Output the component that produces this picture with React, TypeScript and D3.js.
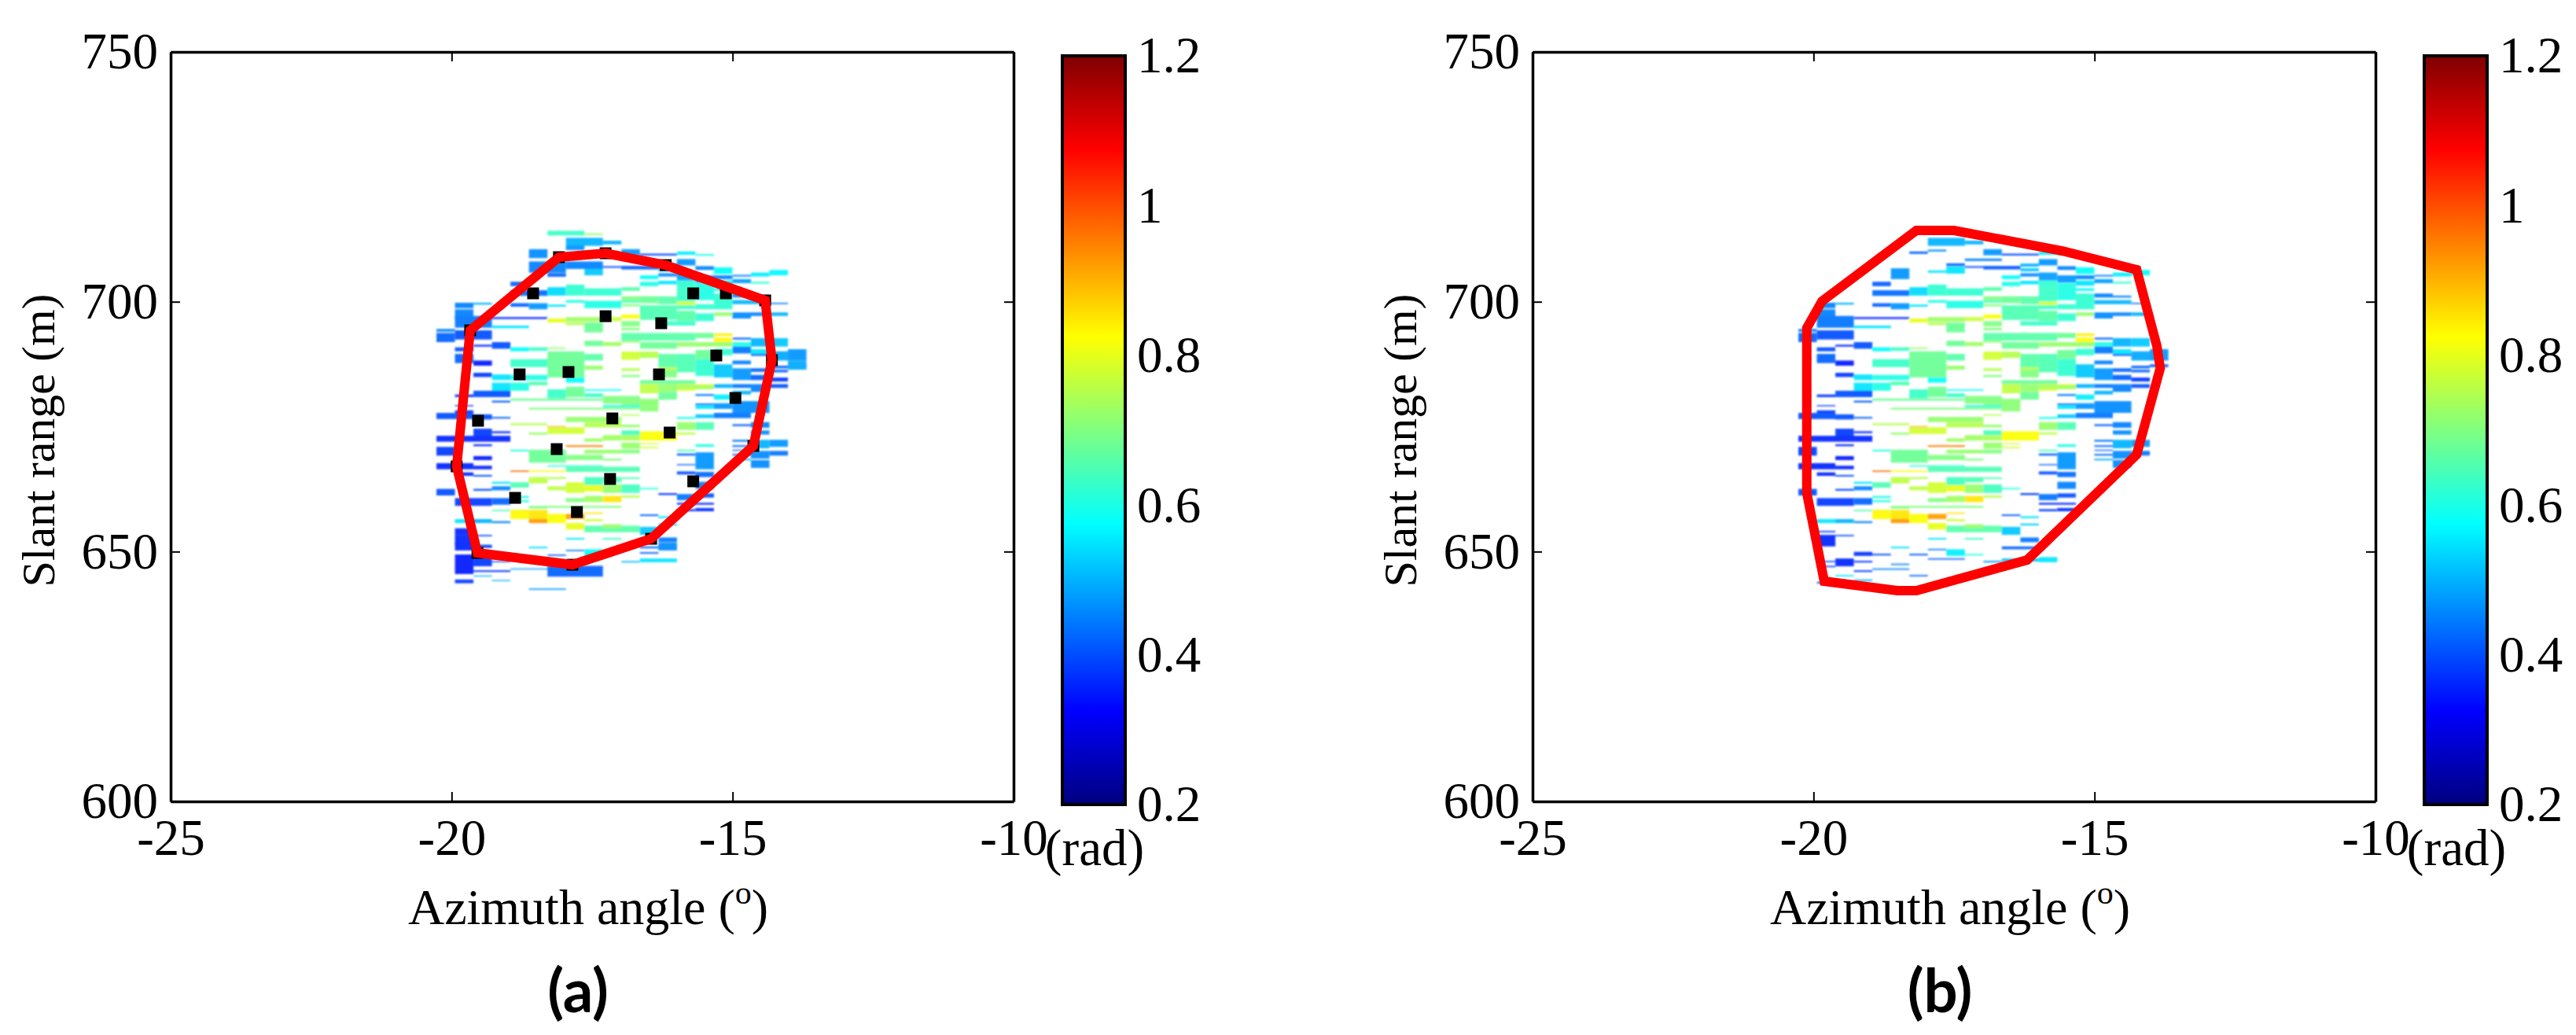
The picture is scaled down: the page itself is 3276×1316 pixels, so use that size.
import React, { useEffect, useRef } from 'react';
import * as d3 from 'd3';

// grid of the phase map: column = 0.3292 deg, bin = half a range gate
const az0 = -20.27;
const azStep = 0.3292;
const range0 = 717.89;
const binStep = 0.4722;

// [colStart, colEnd, binStart, binEnd, radians]
type Cell = [number, number, number, number, number];

const sharedCells: Cell[] = [
  [7,9,10.8,14.2,.5],[9,10,12,13.6,.5],[10,11,15.6,18.2,.47],[11,13,17.5,18.3,.4],[13,14,16.6,18,.56],[14,15,17.7,18.4,.6],
  [13,14,19.8,22.5,.47],[12,13,21.7,23,.5],[10,12,22.8,24.2,.42],[9,12,22.8,23.5,.4],[14,15,22.8,24.4,.45],[15,16,23.3,26.1,.58],
  [12,13,23.7,25,.52],[13,14,25.5,28.9,.48],[14,15,26.7,29.8,.47],[15,16,26.7,28.3,.45],[15,16,28.9,31.1,.55],[16,17,26.5,27.2,.45],
  [16,17,28.3,30,.48],[17,18,25.5,27.2,.56],[18,19,24.4,26.7,.57],[17,18,29.4,30.2,.62],[11,12,26.7,28.3,.58],[11,12,29.4,31.3,.6],
  [12,13,25.8,27.2,.46],[12,13,29,30.5,.55],[13,14,29,31.7,.62],
  [4,5,29.4,31.3,.42],[4,6,33,35.4,.43],[6,7,31.7,35.3,.54],[7,8,30.6,35.3,.62],[8,10,32.2,35.3,.62],[10,11,31.7,33.3,.66],
  [10,12,35.6,37.2,.7],[11,12,35.6,38.5,.68],[12,13,35.6,38.9,.66],[14,15,30,37.2,.6],[15,16,32.2,33.3,.58],[15,16,34.4,41.1,.62],
  [16,17,34.4,36.1,.45],[17,18,35.3,36.1,.45],[16,18,37.2,38.9,.5],[18,19,38.3,38.9,.45],[13,14,31.7,37.8,.63],[13,14,37.8,39.4,.78],
  [13,14,39.4,41,.63],[14,15,38.9,41.1,.62],[13,14,41.7,46.1,.66],[14,15,42.8,46.1,.62],[15,16,42.4,43.9,.72],[16,17,42.4,45,.46],
  [17,18,42.4,43.9,.45],[18,19,42.4,43.9,.5],
  [7,8,37.2,38.3,.6],[8,10,37.5,40.6,.6],[10,11,37.2,38.3,.65],[10,11,38.9,39.8,.7],[4,5,38.5,40,.42],[5,6,38.5,41.1,.47],[6,7,39.1,40,.55],
  [1,2,38.3,40.6,.45],[2,3,38.3,39.1,.5],[1,2,41.1,45.5,.45],[1,3,43.9,48.9,.44],[3,6,44.4,45.2,.36],[3,5,48,49.1,.55],
  [0,1,49.4,50.6,.45],[0,1,51.1,55,.42],[1,3,50,53.9,.4],[3,4,55,57.8,.4],[2,3,56.1,56.9,.36],[1,2,57.2,58.9,.4],[1,2,60,63.9,.42],
  [2,3,62.8,65,.35],[2,3,68,69.8,.38],[4,5,57.2,58.9,.58],[5,6,57.2,58.7,.63],[6,7,57.2,57.8,.72],
  [6,7,45,46.7,.8],[7,9,44.4,46.4,.73],[7,8,46.7,47.8,.75],[8,9,46.7,50.9,.68],[9,10,44.4,46.1,.77],[10,11,43.3,45,.82],[10,11,46.1,48.3,.7],
  [10,11,48.9,50,.7],[11,13,39.4,45.6,.65],[12,14,46.1,48,.63],[10,14,51.1,54.4,.66],[11,13,55,57.8,.68],[8,9,54.4,56.7,.68],[9,10,55,56.7,.73],[10,11,54.4,55.2,.72],
  [14,15,51.1,53.3,.68],[15,16,51.3,52.4,.84],[15,16,53.1,55,.83],[13,16,55,56.9,.72],[16,17,53.1,53.9,.42],[16,17,55,56.9,.6],[17,18,53.3,56.9,.5],[18,19,53.3,56.9,.52],
  [16,17,56.9,59.8,.44],[17,18,58,60,.55],[18,19,58.9,62.8,.49],[19,20,58,62.8,.47],[17,18,60,60.8,.4],[14,15,58.3,62.2,.68],[15,16,57.8,60.6,.62],
  [6,8,58.9,62.8,.68],[4,6,62.2,65.6,.63],[6,8,62.2,70,.68],[8,9,60,62.8,.66],[8,9,65,66.7,.72],[3,4,68.7,71.1,.55],[4,6,68.9,71.1,.6],
  [10,11,59,62.5,.78],[11,12,59,61.7,.75],[12,13,60,66.7,.66],[10,11,66.1,67.2,.75],[12,13,65.6,66.7,.75],[10,11,68.9,69.8,.7],[12,13,66.7,70,.7],[7,8,70,72.2,.58],
  [13,14,60,67.8,.65],[14,15,62.2,69.4,.62],[16,17,62.8,64.4,.45],[15,16,64.4,70,.52],[16,17,66.1,71.1,.47],[17,18,66.1,67.6,.42],[17,18,68.9,71.1,.42],
  [18,19,65,66.1,.42],[18,19,66.7,67.8,.42],[18,19,70,71.7,.38],[19,20,64.4,65.6,.42],
  [14,15,72.8,75,.8],[13,14,72.8,75.6,.8],[15,16,72.8,74.4,.5],[16,17,72.8,74.4,.44],[17,18,72.8,76.1,.45],[18,19,72.8,74.4,.4],[16,17,75.6,77.2,.5],
  [14,15,77,77.8,.45],[15,16,77.2,79.4,.56],[14,15,81.7,83.3,.55],[15,16,80.9,83.3,.47],[16,18,80,85,.46],[14,15,81,81.6,.4],[15,17,85,87.2,.44],
  [14,15,85.6,87.2,.52],[13,14,86.7,87.5,.6],[14,15,88.9,92.2,.65],[13,14,88.9,92.2,.72],[16,17,89.8,90.6,.42],[17,18,88.9,91.3,.45],[17,18,92.4,94.2,.46],
  [11,14,71.1,72.8,.68],[3,4,72.2,76.7,.55],[4,5,72.2,75.6,.6],[5,6,71.7,73.3,.65],[6,7,75,78.9,.63],[7,8,73.9,78.3,.68],[8,9,76.7,78.3,.63],[8,10,75,75.6,.58],
  [11,12,72.8,76.7,.76],[12,13,72.8,76.1,.72],[13,15,73.1,75,.74],[12,13,76.1,79.4,.68],[2,4,75.6,78.3,.4],[1,2,77.2,78.3,.38],[3,4,79.8,80.6,.42],
  [4,9,78.9,79.8,.68],[9,11,77.8,81.1,.7],[10,12,79.4,82.2,.7],[11,12,79,84.4,.71],[9,11,81.7,82.8,.62],[5,11,82.8,83.6,.7],
  [0,2,85,87.6,.4],[1,2,81.7,82.2,.38],[1,2,83.9,85,.38],[2,3,85.6,87.8,.4],[3,4,86.7,87.4,.42],
  [2,3,91.7,96.7,.38],[3,4,92.8,93.6,.36],[0,4,94.7,97.2,.36],[2,3,98.3,99.1,.36],[0,1,99.4,103.1,.38],[2,3,103.3,105,.35],[0,2,106.3,108.9,.36],[2,3,107.4,108.9,.36],
  [1,2,110.2,111.7,.36],[2,3,111.3,112,.4],
  [10,11,85.6,86.2,.75],[7,10,86.7,88.9,.72],[8,10,88.9,91.1,.75],[4,6,89.4,90.2,.75],[6,7,90.6,91.1,.9],[6,8,91.1,93.9,.78],[5,6,93.3,94.2,.72],[10,11,90,91.1,.72],
  [10,11,92.4,94.4,.64],[10,11,94.4,96.7,.74],[11,13,92.8,96.7,.82],[13,14,93.3,94.2,.76],[9,10,94.4,96.7,.73],[8,9,95.8,97.2,.73],[10,11,97.6,100.2,.72],
  [11,12,97.8,98.3,.78],[11,12,99.4,100,.78],[7,9,98.7,99.4,.95],[14,15,98.3,99.4,.6],
  [4,5,100.6,101.3,.6],[5,7,100.6,106.1,.68],[7,9,102.8,105,.7],[8,10,100.6,102.2,.72],[10,11,100.6,102.2,.7],[13,14,100.6,101.3,.65],[13,14,102.2,103.1,.42],[14,15,101.7,108.9,.47],
  [16,17,96.4,97.2,.44],[16,17,98.7,99.4,.42],[16,17,100.6,101.1,.42],[16,17,102.4,103.1,.42],[16,17,104.4,105.1,.5],[17,18,96.4,100,.5],[18,19,96.4,99.4,.47],
  [17,18,101.1,104.4,.46],[18,19,101.1,103.1,.44],[17,18,105,108.3,.46],[9,10,104.4,105.2,.7],[13,14,106.7,107.2,.42],[13,14,109.8,111.1,.4],[14,15,110,112.2,.43],
  [6,9,107.2,107.8,.62],[7,11,107.8,110,.65],[4,5,109.4,110,.97],[5,7,109.4,110,.83],[5,6,112.2,114.9,.76],[6,7,112.2,113,.75],[8,9,112.2,115.6,.64],[4,5,114.4,116.7,.65],
  [3,4,114.2,115,.55],[3,4,116.1,117.8,.45],[2,3,117.2,118,.4],[0,1,117.2,120,.4],[7,8,114.4,118.9,.78],[8,9,115.6,118.3,.8],[9,10,115.3,118.9,.72],[10,11,115.3,118.9,.64],
  [6,7,116.1,117.8,.76],[11,12,116.8,117.4,.6],[9,10,112.2,114.4,.65],[10,11,112.3,113,.65],[14,15,114.2,117.2,.45],
  [8,9,120.2,122.8,.73],[9,10,120.2,122.8,.85],[7,8,121.1,122.8,.7],[10,11,120,120.9,.75],[1,3,121.1,124.4,.38],[3,4,121.1,123.9,.42],[4,5,120.2,121.1,.6],[4,5,122,122.8,.6],
  [12,13,119,119.8,.38],[13,14,119.4,122,.44],[14,15,119.1,120.9,.4],[13,15,123.1,123.9,.36],[14,15,125.3,126.7,.37],[13,14,125.8,126.7,.38],
  [5,6,124.4,125.6,.7],[3,5,126.1,126.7,.65],[6,10,124.4,125.2,.7],[4,5,126.1,130,.83],[5,6,126.1,130,.85],[5,6,130,131.7,.93],[6,7,127.8,131.7,.82],[7,8,127.8,130,.92],
  [8,9,127.2,127.8,.85],[8,9,130,130.9,.78],[7,8,131.7,134.4,.8],[1,2,130,131.7,.55],[2,3,130,131.7,.5],[3,4,130.9,131.7,.45],[11,12,128,128.7,.42],[12,13,128.8,129.6,.55],[12,13,131.9,132.7,.53],
  [8,11,132.8,135.6,.66],[9,10,132.2,133.9,.72],[11,12,133.3,136.7,.52],[7,8,138,138.7,.55],[9,10,138,138.7,.63],[2,3,136.7,137.3,.4],[12,13,137.8,139.8,.44],[1,2,136.7,141,.36],
  [11,13,141.6,142.4,.42],[5,6,141.7,142.4,.55],
];

const panelAOnly: Cell[] = [
  [6,8,7.8,9.8,.63],[8,9,8.9,9.6,.72],[7,8,14,16,.47],[5,6,15.6,19.4,.46],[5,7,20.8,25.6,.45],[7,9,20.8,24,.45],[8,9,24,26.7,.52],[6,7,25.8,27.3,.42],
  [19,20,62.8,66.7,.49],[1,2,133.9,136.7,.36],[1,2,140,143.3,.36],[2,3,140.9,142.2,.38],[12,13,140,143.3,.46],[11,12,144,144.7,.42],[6,7,145,145.6,.42],[7,8,143,143.6,.45],[8,9,142.8,145.6,.57],
  [1,2,145,153.3,.35],[2,3,145,150,.38],[3,4,147.8,148.3,.38],[2,4,151.7,152.4,.37],[2,3,153.9,154.4,.5],[1,2,155.6,157.2,.38],[3,4,155.8,156.3,.5],[4,7,150.9,151.4,.48],[6,9,149.8,154.4,.42],
  [5,7,159.4,160,.48],[10,11,147.8,148.4,.5],[11,13,146.7,148.3,.55],
];

const panelBOnly: Cell[] = [
  [7,8,15.8,16.6,.46],[6,7,16.6,17.6,.42],[9,11,19.6,20.6,.45],[8,9,21.6,22.8,.42],[8,9,23,26,.55],[7,8,24.6,25.6,.55],[5,6,23.7,28.3,.47],
  [1,2,135,135.6,.38],[1,2,140,141.6,.36],[7,8,142.6,143.2,.45],[11,13,142.2,142.8,.42],[8,9,142.8,145.6,.56],[3,4,143.9,145.6,.37],[4,5,144.7,145.4,.4],[6,7,144.7,145.4,.42],[9,10,144.8,145.4,.6],
  [7,9,146.6,147.2,.42],[2,3,146.7,150,.36],[11,13,146.7,148,.52],[13,14,146.1,148.3,.55],[1,2,147.7,148.3,.4],[3,4,147.7,148.4,.38],[10,11,147.7,148.4,.48],[5,6,148.9,149.5,.45],[1,2,149.8,150.4,.38],
  [4,6,150.9,151.5,.45],[3,4,151.7,152.4,.38],[2,3,153.7,154.3,.55],[6,7,153.7,154.3,.42],[3,4,155.6,156.3,.5],[1,2,156.6,157.3,.4],
];

// [azimuth deg, slant range m]
const boundaryA: [number, number][] = [
  [-19.67,694.28],[-18.09,708.92],[-17.26,709.7],[-16.19,707.34],[-14.42,700.26],[-14.3,688.3],[-14.63,671.14],[-16.45,652.57],[-17.85,647.37],[-19.54,649.73],[-19.91,667.05],
];
const boundaryB: [number, number][] = [
  [-18.17,714.27],[-17.5,714.27],[-15.57,710.18],[-14.25,706.4],[-13.89,691.13],[-13.83,686.72],[-14.25,669.41],[-16.2,648.32],[-18.17,642.18],[-18.51,642.18],[-19.81,644.07],[-20.12,661.7],[-20.12,694.75],[-19.85,700.1],
];
const scatterA: [number, number][] = [
  [-18.55,701.68],[-15.7,701.68],[-15.12,701.68],[-17.26,697.11],[-16.27,695.7],[-15.29,689.24],[-18.79,685.46],[-17.92,685.94],[-16.31,685.46],
  [-14.95,680.74],[-19.53,676.18],[-17.14,676.65],[-16.12,673.82],[-18.13,670.51],[-17.18,664.53],[-15.7,664.06],[-18.87,660.75],[-17.77,657.92],
];

const azTicks = [-25, -20, -15, -10];
const rangeTicks = [600, 650, 700, 750];
const barTicks = [0.2, 0.4, 0.6, 0.8, 1, 1.2];

const jetStops = [0.2, 0.325, 0.575, 0.825, 1.075, 1.2];
const jetColors = ['#00007f', '#0000ff', '#00ffff', '#ffff00', '#ff0000', '#7f0000'];
const jet = d3.scaleLinear<string>().domain(jetStops).range(jetColors).clamp(true);

const SERIF = '"Liberation Serif", serif';
const FONT = 65;

function drawPanel(svg: d3.Selection<SVGSVGElement, unknown, null, undefined>, id: string, dx: number, letter: string,
  cells: Cell[], boundary: [number, number][], scatter: [number, number][]) {
  const x = d3.scaleLinear().domain([-25, -10]).range([217, 1289]);
  const y = d3.scaleLinear().domain([600, 750]).range([1019, 66]);
  const g = svg.append('g').attr('transform', `translate(${dx},0)`);

  const heat = g.append('g').attr('filter', 'url(#soft)').attr('opacity', 0.92);
  cells.forEach(([c0, c1, b0, b1, v]) => {
    const xa = x(az0 + azStep * c0);
    const xb = x(az0 + azStep * c1);
    const ya = y(range0 - binStep * b0);
    const yb = y(range0 - binStep * b1);
    heat.append('rect').attr('x', xa).attr('y', ya).attr('width', xb - xa).attr('height', yb - ya).attr('fill', jet(v));
  });

  scatter.concat(scatter.length ? boundary : []).forEach(([a, r]) => {
    g.append('rect').attr('x', x(a) - 7.5).attr('y', y(r) - 7.5).attr('width', 15).attr('height', 15).attr('fill', '#000');
  });

  const line = d3.line<[number, number]>().x(d => x(d[0])).y(d => y(d[1])).curve(d3.curveLinearClosed);
  g.append('path').attr('d', line(boundary)).attr('fill', 'none').attr('stroke', '#ff0000').attr('stroke-width', 12).attr('stroke-linejoin', 'miter');

  // axes, box on
  const styleAxis = (a: d3.Selection<SVGGElement, unknown, null, undefined>) => {
    a.selectAll('path').attr('stroke', '#000').attr('stroke-width', 3.5);
    a.selectAll('line').attr('stroke', '#000').attr('stroke-width', 2);
    a.selectAll('text').attr('font-family', SERIF).attr('font-size', FONT).attr('fill', '#000');
    a.attr('font-family', SERIF);
  };
  g.append('g').attr('transform', 'translate(0,1019)')
    .call(d3.axisBottom(x).tickValues(azTicks).tickSize(-12).tickPadding(22).tickSizeOuter(0).tickFormat(d => String(d))).call(styleAxis);
  g.append('g').attr('transform', 'translate(217,0)')
    .call(d3.axisLeft(y).tickValues(rangeTicks).tickSize(-12).tickPadding(16).tickSizeOuter(0)).call(styleAxis);
  g.append('g').attr('transform', 'translate(0,66)')
    .call(d3.axisTop(x).tickValues(azTicks).tickSize(-12).tickFormat(() => '').tickSizeOuter(0)).call(styleAxis);
  g.append('g').attr('transform', 'translate(1289,0)')
    .call(d3.axisRight(y).tickValues(rangeTicks).tickSize(-12).tickFormat(() => '').tickSizeOuter(0)).call(styleAxis);

  // colour bar
  const barY = d3.scaleLinear().domain([0.2, 1.2]).range([1023, 71]);
  g.append('rect').attr('x', 1351).attr('y', 71).attr('width', 80).attr('height', 952)
    .attr('fill', `url(#jet${id})`).attr('stroke', '#000').attr('stroke-width', 4);
  g.append('g').attr('transform', 'translate(1431,0)')
    .call(d3.axisRight(barY).tickValues(barTicks).tickSize(0).tickPadding(15).tickFormat(d3.format('~g') as any))
    .call(a => {
      a.select('path').remove();
      a.selectAll('text').attr('font-family', SERIF).attr('font-size', FONT).attr('fill', '#000');
    });
  g.append('text').attr('x', 1392).attr('y', 1100).attr('text-anchor', 'middle')
    .attr('font-family', SERIF).attr('font-size', FONT).text('(rad)');

  // axis titles
  const xt = g.append('text').attr('x', 748).attr('y', 1175).attr('text-anchor', 'middle')
    .attr('font-family', SERIF).attr('font-size', 64);
  xt.append('tspan').text('Azimuth angle (');
  xt.append('tspan').attr('font-size', 42).attr('dy', -26).text('o');
  xt.append('tspan').attr('dy', 26).text(')');
  g.append('text').attr('transform', 'translate(50,560) rotate(-90)').attr('text-anchor', 'middle')
    .attr('dy', '0.32em').attr('font-family', SERIF).attr('font-size', 60).text('Slant range (m)');

  g.append('text').attr('x', 735).attr('y', 1287).attr('text-anchor', 'middle')
    .attr('font-family', 'Lato, sans-serif').attr('font-weight', 700).attr('font-size', 76).text(`(${letter})`);
}

const App: React.FC = () => {
  const svgRef = useRef<SVGSVGElement>(null);

  useEffect(() => {
    if (!svgRef.current) return;
    const svg = d3.select(svgRef.current);
    svg.selectAll('*').remove();

    const defs = svg.append('defs');
    defs.append('filter').attr('id', 'soft').attr('x', '-5%').attr('y', '-5%').attr('width', '110%').attr('height', '110%')
      .append('feGaussianBlur').attr('stdDeviation', 1.3);
    ['a', 'b'].forEach(id => {
      const grad = defs.append('linearGradient').attr('id', `jet${id}`).attr('x1', 0).attr('x2', 0).attr('y1', 1).attr('y2', 0);
      jetStops.forEach((s, i) => grad.append('stop').attr('offset', (s - 0.2) / 1.0).attr('stop-color', jetColors[i]));
    });

    drawPanel(svg, 'a', 0, 'a', [...sharedCells, ...panelAOnly], boundaryA, scatterA);
    drawPanel(svg, 'b', 1732, 'b', [...sharedCells, ...panelBOnly], boundaryB, []);
  }, []);

  return <svg ref={svgRef} width={3276} height={1316} style={{ position: 'absolute', left: 0, top: 0, background: '#fff' }} />;
};

export default App;
